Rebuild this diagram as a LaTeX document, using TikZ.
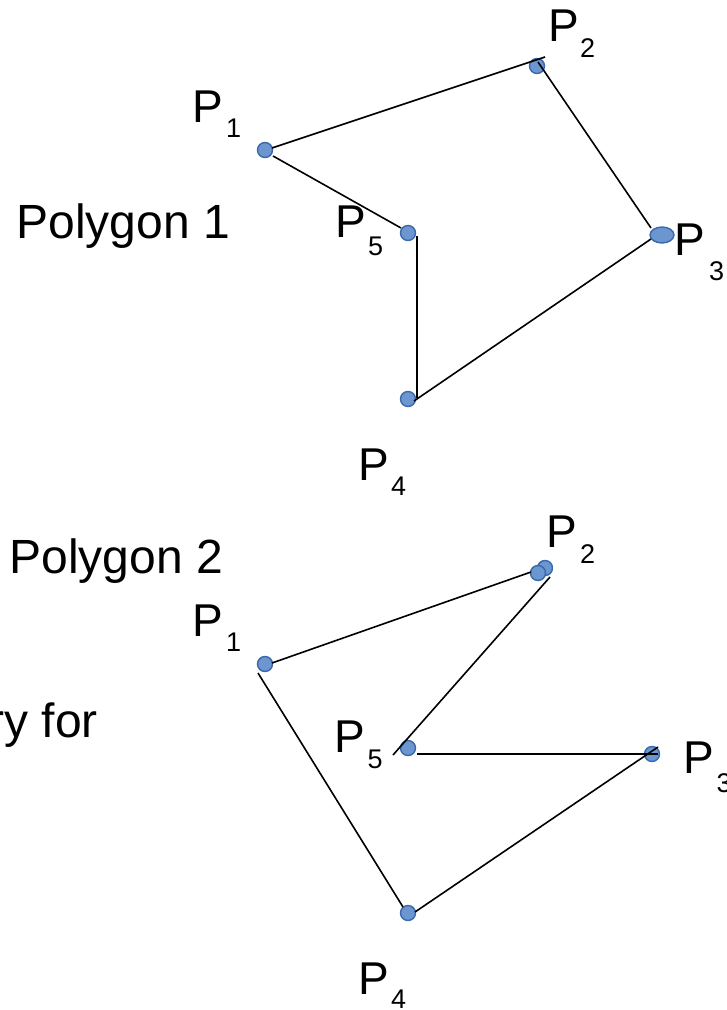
\documentclass[tikz,border=0pt]{standalone}
\usepackage{fontspec}
\setmainfont{Liberation Sans}
\definecolor{dotfill}{RGB}{108,150,208}
\definecolor{dotline}{RGB}{58,104,170}
\tikzset{
  pt/.style={circle,fill=dotfill,draw=dotline,line width=1.4pt,minimum size=15pt,inner sep=0pt},
  ptw/.style={ellipse,fill=dotfill,draw=dotline,line width=1.4pt,minimum width=24pt,minimum height=16pt,inner sep=0pt},
  edge/.style={line width=1.6pt,black},
  big/.style={anchor=base west,inner sep=0pt,font=\fontsize{46}{50}\selectfont},
  title/.style={anchor=base west,inner sep=0pt,font=\fontsize{48}{52}\selectfont},
  sub/.style={anchor=base west,inner sep=0pt,font=\fontsize{27}{30}\selectfont},
}
\usetikzlibrary{shapes.geometric}
\begin{document}
\begin{tikzpicture}[x=1pt,y=-1pt]
\useasboundingbox (0,0) rectangle (727,1010);
% ---------- Polygon 1 ----------
\node[pt] (a1) at (265,150) {};
\node[pt] (a2) at (537,66) {};
\node[ptw] (a3) at (662,235) {};
\node[pt] (a4) at (408,399) {};
\node[pt] (a5) at (408,233) {};
\coordinate (a12s) at (272,148); \coordinate (a12e) at (545,57);
\coordinate (a23s) at (538,62);  \coordinate (a23e) at (651,228);
\coordinate (a34s) at (651,239); \coordinate (a34e) at (414,401);
\coordinate (a45s) at (417,398); \coordinate (a45e) at (417,236);
\coordinate (a51s) at (401,228); \coordinate (a51e) at (273,156);
\draw[edge] (a12s) -- (a12e);
\draw[edge] (a23s) -- (a23e);
\draw[edge] (a34s) -- (a34e);
\draw[edge] (a45s) -- (a45e);
\draw[edge] (a51s) -- (a51e);
\node[title] (t1) at (16.3,238) {Polygon 1};
\node[big] (la1) at (192.5,122) {P};  \node[sub] (sa1) at (226,137) {1};
\node[big] (la2) at (548.5,41) {P};   \node[sub] (sa2) at (580,57) {2};
\node[big] (la3) at (674.5,255) {P};  \node[sub] (sa3) at (709,280) {3};
\node[big] (la5) at (335.5,237) {P};  \node[sub] (sa5) at (368,255) {5};
\node[big] (la4) at (358.5,480) {P};  \node[sub] (sa4) at (391,495) {4};
% ---------- Polygon 2 ----------
\node[pt] (b1) at (265,664) {};
\node[pt] (b2b) at (545,568) {};
\node[pt] (b2) at (538,573) {};
\node[pt] (b3) at (652,754) {};
\node[pt] (b4) at (408,913) {};
\node[pt] (b5) at (408,748) {};
\coordinate (b12s) at (272,663); \coordinate (b12e) at (531,572);
\coordinate (b25s) at (550,577); \coordinate (b25e) at (393,755);
\coordinate (b53s) at (417,754); \coordinate (b53e) at (658,754);
\coordinate (b34s) at (658,747); \coordinate (b34e) at (415,912);
\coordinate (b41s) at (403,907); \coordinate (b41e) at (258,673);
\draw[edge] (b12s) -- (b12e);
\draw[edge] (b25s) -- (b25e);
\draw[edge] (b53s) -- (b53e);
\draw[edge] (b34s) -- (b34e);
\draw[edge] (b41s) -- (b41e);
\node[title] (t2) at (9.3,573) {Polygon 2};
\node[title,anchor=base east] (t3) at (98,737) {ry for};
\node[big] (lb1) at (192.5,636) {P};  \node[sub] (sb1) at (226,651) {1};
\node[big] (lb2) at (546.5,547) {P};  \node[sub] (sb2) at (580,563) {2};
\node[big] (lb3) at (683.5,773) {P};  \node[sub] (sb3) at (716.5,792) {3};
\node[big] (lb5) at (334.5,752) {P};  \node[sub] (sb5) at (367.5,768) {5};
\node[big] (lb4) at (358.5,994) {P};  \node[sub] (sb4) at (391,1008) {4};
\end{tikzpicture}
\end{document}
